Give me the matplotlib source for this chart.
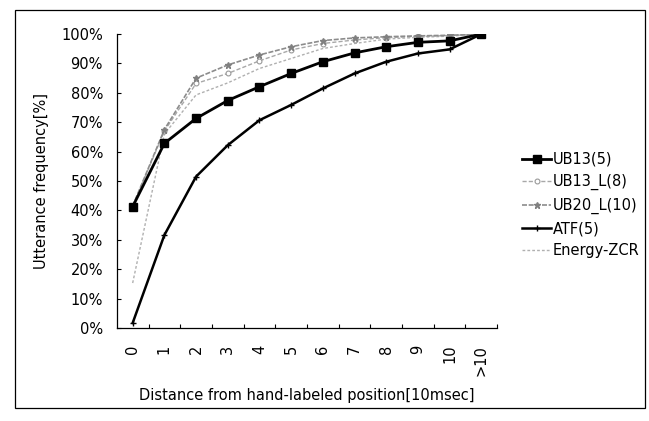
import matplotlib
matplotlib.use("Agg")
import matplotlib.pyplot as plt
from matplotlib.patches import Rectangle
import numpy as np

# categories on the x axis
categories = ["0", "1", "2", "3", "4", "5", "6", "7", "8", "9", "10", ">10"]

# cumulative utterance frequency [%] per series
ub13_5 = [41.3, 62.8, 71.3, 77.4, 82.1, 86.6, 90.6, 93.6, 95.7, 97.2, 97.7, 100.0]
ub13_l8 = [41.5, 67.0, 83.2, 86.6, 90.9, 94.6, 96.8, 98.0, 98.8, 99.2, 99.5, 100.0]
ub20_l10 = [41.5, 67.5, 85.0, 89.5, 92.9, 95.7, 97.8, 98.7, 99.1, 99.4, 99.6, 100.0]
atf_5 = [1.7, 31.6, 51.5, 62.2, 70.7, 75.9, 81.5, 86.6, 90.6, 93.4, 94.8, 100.0]
energy_zcr = [15.3, 66.0, 79.3, 83.4, 88.3, 91.7, 95.1, 96.8, 98.3, 98.9, 99.3, 100.0]

series_labels = ["UB13(5)", "UB13_L(8)", "UB20_L(10)", "ATF(5)", "Energy-ZCR"]
yticks = [0, 10, 20, 30, 40, 50, 60, 70, 80, 90, 100]

plt.rcParams["font.family"] = ["DejaVu Sans"]

fig = plt.figure(figsize=(6.49, 4.21), dpi=100)
ax = fig.add_axes([0.180, 0.221, 0.586, 0.698])

x = np.arange(len(categories))

# light series first so the black ones sit on top
ax.plot(x, energy_zcr, color="#b0b0b0", lw=1.0, ls=(0, (2, 1.5)),
        label=series_labels[4], zorder=2)
ax.plot(x, ub13_l8, color="#a8a8a8", lw=1.0, ls=(0, (3, 1.5)),
        marker="o", ms=3.5, mfc="white", mec="#999999", mew=0.8,
        label=series_labels[1], zorder=3)
ax.plot(x, ub20_l10, color="#8c8c8c", lw=1.2, ls=(0, (3, 1)),
        marker="*", ms=5, mec="#808080", mfc="#808080",
        label=series_labels[2], zorder=3)
ax.plot(x, atf_5, color="black", lw=1.8, marker="+", ms=4, mew=1.0,
        label=series_labels[3], zorder=4)
ax.plot(x, ub13_5, color="black", lw=2.0, marker="s", ms=5.5,
        label=series_labels[0], zorder=5)

ax.set_xlim(-0.5, len(categories) - 0.5)
ax.set_ylim(0, 100)

ax.set_yticks(yticks)
ax.set_yticklabels([f"{v}%" for v in yticks], fontsize=10.5)
ax.tick_params(axis="y", direction="in", length=3, width=0.8, pad=10)

# category labels centred, tick marks on the category boundaries
ax.set_xticks(x)
ax.set_xticklabels(categories, rotation=90, fontsize=10.5)
ax.tick_params(axis="x", which="major", length=0, pad=12)
ax.set_xticks(np.arange(0.5, len(categories), 1.0), minor=True)
ax.tick_params(axis="x", which="minor", direction="in", length=3, width=0.8)

for side in ["top", "right"]:
    ax.spines[side].set_visible(False)
for side in ["left", "bottom"]:
    ax.spines[side].set_linewidth(0.9)

ax.set_ylabel("Utterance frequency[%]", fontsize=10.5, labelpad=9)
ax.set_xlabel("Distance from hand-labeled position[10msec]", fontsize=10.5,
              labelpad=9)

handles, labels = ax.get_legend_handles_labels()
order = [labels.index(name) for name in series_labels]
ax.legend([handles[i] for i in order], [labels[i] for i in order],
          loc="center left", bbox_to_anchor=(1.05, 0.418), frameon=False,
          fontsize=10.5, handlelength=2.0, handletextpad=0.1,
          labelspacing=0.5, borderaxespad=0)

# outer frame around the whole chart
fig.patches.append(Rectangle((15 / 649, 13 / 421), 630 / 649, 398 / 421,
                             transform=fig.transFigure, fill=False,
                             edgecolor="black", lw=0.9))

fig.savefig("out.png", dpi=100)
